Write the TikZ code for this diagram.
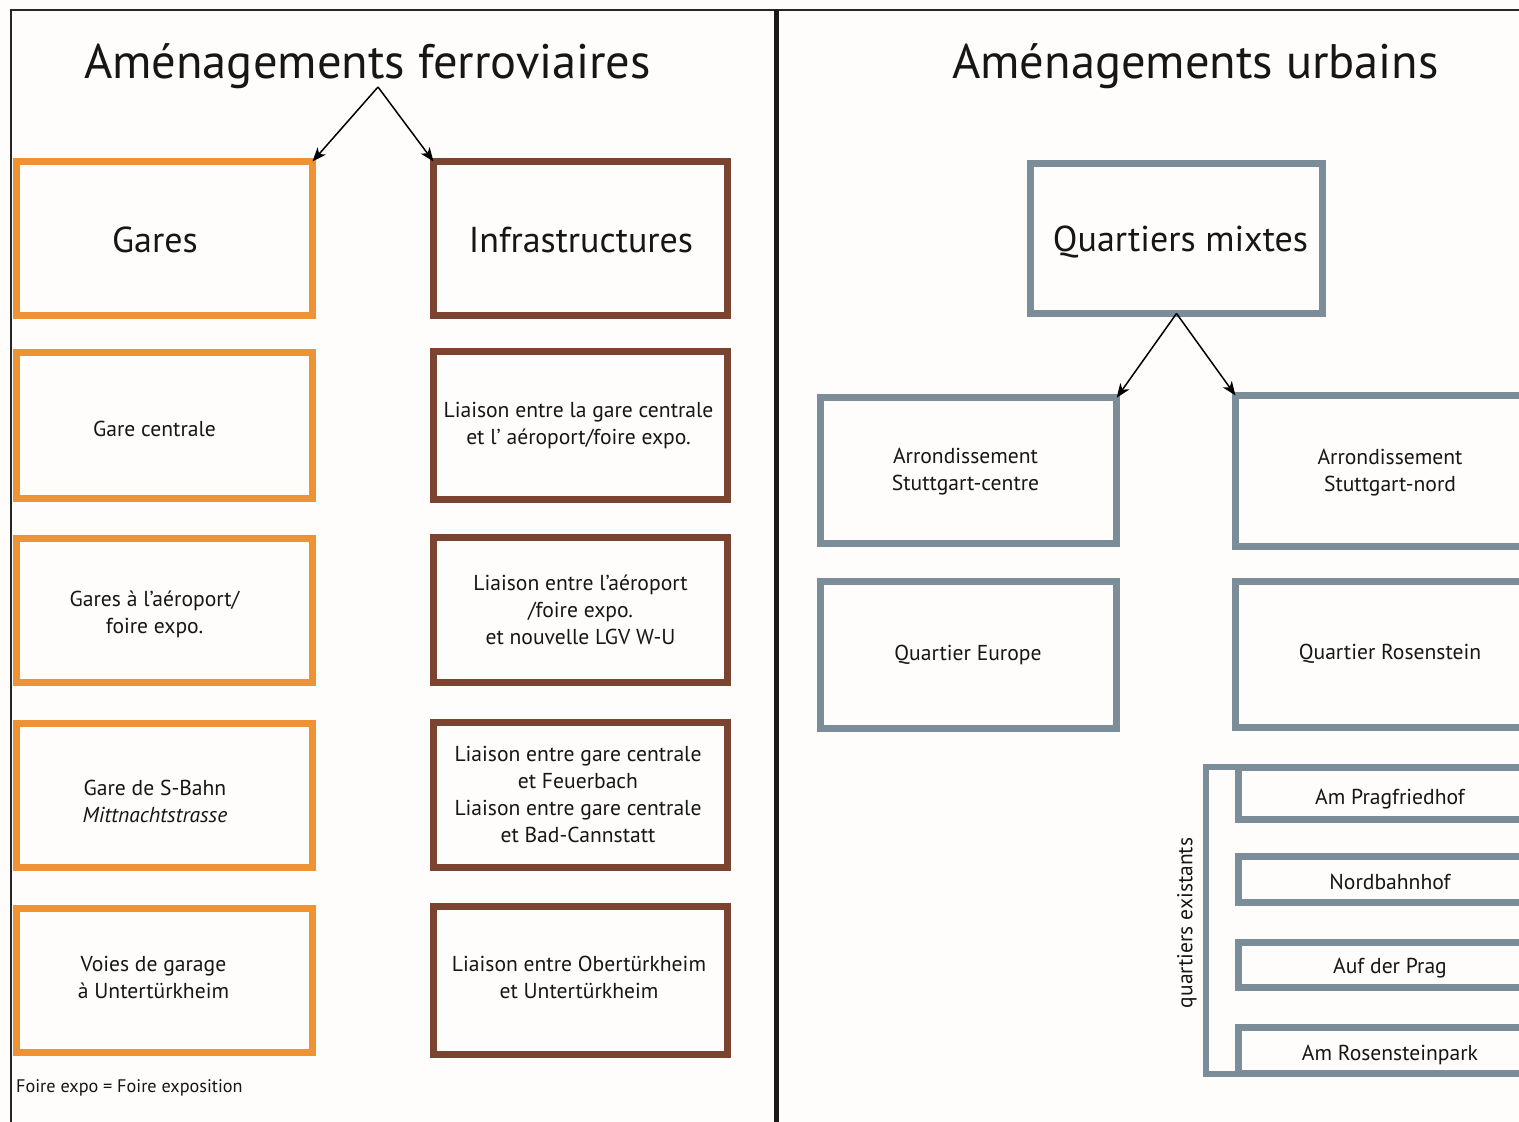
\documentclass[tikz,border=0pt]{standalone}
\usepackage{fontspec}
\setmainfont{PT Sans}
\usetikzlibrary{arrows.meta}
\definecolor{orangeb}{RGB}{238,146,52}
\definecolor{brownb}{RGB}{123,68,48}
\definecolor{greyb}{RGB}{122,141,153}
\definecolor{bgc}{RGB}{254,253,251}
\definecolor{txt}{RGB}{22,22,22}
\begin{document}
\begin{tikzpicture}[x=1pt,y=-1pt,
 box/.style={draw, line width=7pt, inner sep=0pt, outer sep=0pt},
 obox/.style={box, draw=orangeb, minimum width=296pt},
 bbox/.style={box, draw=brownb, minimum width=294pt},
 gbox/.style={box, draw=greyb, minimum width=296pt},
 sbox/.style={box, draw=greyb, minimum width=300pt},
 lbl/.style={align=center, inner sep=0pt, text=txt, yshift=-2pt, font=\fontsize{21.6}{27}\selectfont},
 head/.style={inner sep=0pt, text=txt, yshift=-2pt, font=\fontsize{36}{40}\selectfont},
 ttl/.style={inner sep=0pt, text=txt, font=\fontsize{48.5}{52}\selectfont},
 arr/.style={-{Stealth[length=14pt,width=11pt,inset=4pt]}, line width=1.5pt, black},
]
\useasboundingbox (0,0) rectangle (1519,1122);
\fill[bgc] (0,0) rectangle (1519,1122);
\clip (0,0) rectangle (1519,1122);
% frame
\draw[line width=1.6pt, black!85] (11,1122) -- (11,10) -- (1519,10);
\draw[line width=4.5pt, black!90] (776.5,10) -- (776.5,1122);
% titles
\node[ttl] (t1) at (367.5,66) {Aménagements ferroviaires};
\node[ttl] (t2) at (1195.5,66) {Aménagements urbains};
\coordinate (apex) at (378,87);
% orange column
\node[obox, minimum height=154pt] (gares) at (164.5,238.5) {};
\node[obox, minimum height=146pt] (o1) at (164.5,425.5) {};
\node[obox, minimum height=144pt] (o2) at (164.5,610) {};
\node[obox, minimum height=144pt] (o3) at (164.5,795) {};
\node[obox, minimum height=144pt] (o4) at (164.5,980) {};
\node[head] (gares-t) at (155,238) {Gares};
\node[lbl] (o1-t) at (154.5,427) {Gare centrale};
\node[lbl] (o2-t) at (154.5,612) {Gares à l'aéroport/\\foire expo.};
\node[lbl] (o3-t) at (155,799) {Gare de S-Bahn\\\textit{Mittnachtstrasse}};
\node[lbl] (o4-t) at (153.5,975) {Voies de garage\\à Untertürkheim};
% brown column
\node[bbox, minimum height=154pt] (infra) at (580.5,238.5) {};
\node[bbox, minimum height=148pt] (b1) at (580.5,425) {};
\node[bbox, minimum height=145pt] (b2) at (580.5,609.5) {};
\node[bbox, minimum height=145pt] (b3) at (580.5,794.5) {};
\node[bbox, minimum height=148pt] (b4) at (580.5,980) {};
\node[head] (infra-t) at (581,238) {Infrastructures};
\node[lbl] (b1-t) at (578.5,424) {Liaison entre la gare centrale\\et l' aéroport/foire expo.};
\node[lbl] (b2-t) at (580.5,608) {Liaison entre l'aéroport\\/foire expo.\\et nouvelle LGV W-U};
\node[lbl] (b3-t) at (578,792) {Liaison entre gare centrale\\et Feuerbach\\Liaison entre gare centrale\\et Bad-Cannstatt};
\node[lbl] (b4-t) at (579,975) {Liaison entre Obertürkheim\\et Untertürkheim};
% arrows left
\draw[arr] (apex) -- (gares.north east);
\draw[arr] (apex) -- (infra.north west);
% grey
\node[gbox, minimum width=292pt, minimum height=150pt] (qm) at (1176.5,238.5) {};
\node[head] (qm-t) at (1180.5,240) {Quartiers mixtes};
\node[gbox, minimum height=146pt] (acentre) at (968.7,470.7) {};
\node[gbox, minimum height=151pt] (anord) at (1383.5,471) {};
\node[gbox, minimum height=147pt] (qeur) at (968.7,655) {};
\node[gbox, minimum height=146pt] (qros) at (1383.5,654.5) {};
\node[lbl] (acentre-t) at (965.5,470) {Arrondissement\\Stuttgart-centre};
\node[lbl] (anord-t) at (1390,471) {Arrondissement\\Stuttgart-nord};
\node[lbl] (qeur-t) at (968,653) {Quartier Europe};
\node[lbl] (qros-t) at (1390,652) {Quartier Rosenstein};
\draw[arr] (qm.south) -- (acentre.north east);
\draw[arr] (qm.south) -- (anord.north west);
% small boxes
\node[sbox, minimum height=52.5pt] (s1) at (1388.5,793.7) {};
\node[sbox, minimum height=46pt] (s2) at (1388.5,879) {};
\node[sbox, minimum height=45pt] (s3) at (1388.5,964.7) {};
\node[sbox, minimum height=46pt] (s4) at (1388.5,1050.5) {};
\node[lbl] (s1-t) at (1390,797) {Am Pragfriedhof};
\node[lbl] (s2-t) at (1390,880) {Nordbahnhof};
\node[lbl] (s3-t) at (1390,966) {Auf der Prag};
\node[lbl] (s4-t) at (1390,1053) {Am Rosensteinpark};
\draw[greyb, line width=6pt] (s1.north west) -- ++(-33,0) |- (s4.south west);
\node[inner sep=0pt, text=txt, rotate=90, font=\fontsize{21.5}{24}\selectfont] (qex) at (1187,923) {quartiers existants};
% footnote
\node[anchor=west, inner sep=0pt, text=txt, font=\fontsize{18.2}{20}\selectfont] (fn) at (16,1088) {Foire expo = Foire exposition};
\end{tikzpicture}
\end{document}
